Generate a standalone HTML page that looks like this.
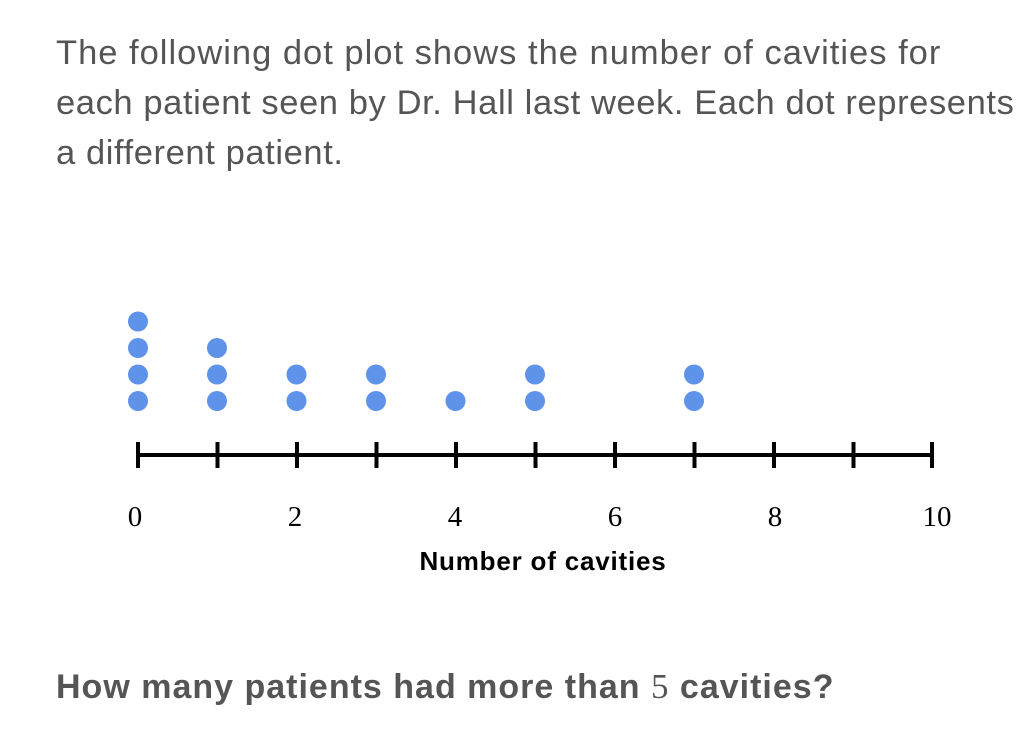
<!DOCTYPE html>
<html><head><style>
body{margin:0;width:1036px;height:738px;background:#fff;overflow:hidden;position:relative}
.t{position:absolute;left:56px;top:28px;font-family:"Liberation Sans",sans-serif;font-size:34.5px;line-height:50px;color:#555;letter-spacing:0.6px;white-space:nowrap}
.q{position:absolute;left:56px;top:667px;font-family:"Liberation Sans",sans-serif;font-size:34px;font-weight:bold;color:#555;letter-spacing:1px;white-space:nowrap}
</style></head><body>
<div class="t"><span style="letter-spacing:1px">The following dot plot shows the number of cavities for</span><br>each patient seen by Dr. Hall last week. Each dot represents<br>a different patient.</div>
<svg width="1036" height="738" style="position:absolute;left:0;top:0">
<g fill="#5f92e9">
<circle cx="138" cy="401" r="10"/><circle cx="138" cy="374.5" r="10"/><circle cx="138" cy="348" r="10"/><circle cx="138" cy="321.5" r="10"/>
<circle cx="217" cy="401" r="10"/><circle cx="217" cy="374.5" r="10"/><circle cx="217" cy="348" r="10"/>
<circle cx="296.5" cy="401" r="10"/><circle cx="296.5" cy="374.5" r="10"/>
<circle cx="376" cy="401" r="10"/><circle cx="376" cy="374.5" r="10"/>
<circle cx="455.5" cy="401" r="10"/>
<circle cx="535" cy="401" r="10"/><circle cx="535" cy="374.5" r="10"/>
<circle cx="694" cy="401" r="10"/><circle cx="694" cy="374.5" r="10"/>
</g>
<line x1="136" y1="455" x2="934" y2="455" stroke="#000" stroke-width="4"/>
<g stroke="#000" stroke-width="4">
<line x1="138" y1="442" x2="138" y2="468"/><line x1="217.5" y1="442" x2="217.5" y2="468"/><line x1="297" y1="442" x2="297" y2="468"/><line x1="376.5" y1="442" x2="376.5" y2="468"/><line x1="456" y1="442" x2="456" y2="468"/><line x1="535.5" y1="442" x2="535.5" y2="468"/><line x1="615" y1="442" x2="615" y2="468"/><line x1="694.5" y1="442" x2="694.5" y2="468"/><line x1="774" y1="442" x2="774" y2="468"/><line x1="853.5" y1="442" x2="853.5" y2="468"/><line x1="932" y1="442" x2="932" y2="468"/>
</g>
<g font-family="Liberation Serif,serif" font-size="29" text-anchor="middle" fill="#000">
<text x="135" y="526">0</text><text x="295" y="526">2</text><text x="455" y="526">4</text><text x="615" y="526">6</text><text x="775" y="526">8</text><text x="937" y="526">10</text>
</g>
<text x="543" y="570" font-family="Liberation Sans,sans-serif" font-size="26" font-weight="bold" letter-spacing="0.8" text-anchor="middle">Number of cavities</text>
</svg>
<div class="q">How many patients had more than <span style="font-family:'Liberation Serif',serif;font-weight:normal;font-size:35px">5</span> cavities?</div>
</body></html>
